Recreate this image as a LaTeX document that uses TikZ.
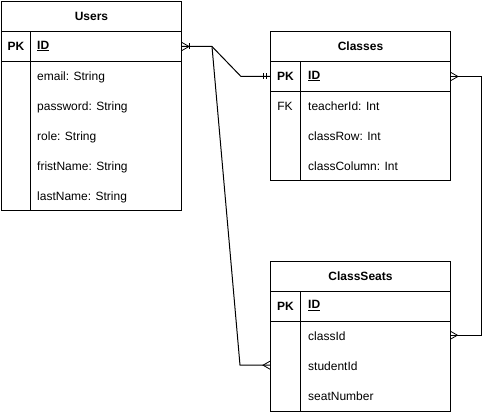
\documentclass[tikz,border=0pt]{standalone}
\usepackage{fontspec}
\setmainfont{Liberation Sans}
\usetikzlibrary{calc}
\begin{document}
\begin{tikzpicture}[x=1pt,y=-1pt,
  every node/.style={font=\fontsize{12}{14}\selectfont, inner sep=0pt},
  box/.style={draw, line width=1pt, anchor=north west},
  rowbox/.style={anchor=north west, minimum width=180pt, minimum height=30pt},
  fld/.style={anchor=base west},
  lnk/.style={draw, line width=1pt},
  crowfoot/.pic={\draw[line width=0.8pt] (0,-4) -- (7,0) -- (0,4);},
  onebar/.pic={\draw[line width=0.8pt] (0,-3) -- (0,3);}
]
\useasboundingbox (0,0) rectangle (490,412);

% Users
\node[box, minimum width=180pt, minimum height=30pt] (uhead) at (1,1) {\textbf{Users}};
\node[box, minimum width=29pt, minimum height=30pt] (upk) at (1,31) {\textbf{PK}};
\node[box, minimum width=151pt, minimum height=30pt] (uid) at (30,31) {};
\node[anchor=west] (uidt) at (37,46) {\textbf{\underline{ID}}};
\node[box, minimum width=29pt, minimum height=149pt] (ubl) at (1,61) {};
\node[box, minimum width=151pt, minimum height=149pt] (ubr) at (30,61) {};
\node[fld] (uf1) at (37,80.5) {email: String};
\node[fld] (uf2) at (37,110.5) {password: String};
\node[fld] (uf3) at (37,140.5) {role: String};
\node[fld] (uf4) at (37,170.5) {fristName: String};
\node[fld] (uf5) at (37,200.5) {lastName: String};

% Classes
\node[box, minimum width=180pt, minimum height=30pt] (chead) at (270,31) {\textbf{Classes}};
\node[box, minimum width=30pt, minimum height=30pt] (cpk) at (270,61) {\textbf{PK}};
\node[box, minimum width=150pt, minimum height=30pt] (cid) at (300,61) {};
\node[anchor=west] (cidt) at (308,76) {\textbf{\underline{ID}}};
\node[box, minimum width=30pt, minimum height=89pt] (cbl) at (270,91) {};
\node[box, minimum width=150pt, minimum height=89pt] (cbr) at (300,91) {};
\node[anchor=base] (cfk) at (285,110.5) {FK};
\node[fld] (cf1) at (308,110.5) {teacherId: Int};
\node[fld] (cf2) at (308,140.5) {classRow: Int};
\node[fld] (cf3) at (308,170.5) {classColumn: Int};

% ClassSeats
\node[box, minimum width=180pt, minimum height=30pt] (shead) at (270,260.5) {\textbf{ClassSeats}};
\node[box, minimum width=30pt, minimum height=30pt] (spk) at (270,290.5) {\textbf{PK}};
\node[box, minimum width=150pt, minimum height=30pt] (sid) at (300,290.5) {};
\node[anchor=west] (sidt) at (308,305.5) {\textbf{\underline{ID}}};
\node[box, minimum width=30pt, minimum height=90pt] (sbl) at (270,320.5) {};
\node[box, minimum width=150pt, minimum height=90pt] (sbr) at (300,320.5) {};
\node[rowbox] (srow1) at (270,320) {};
\node[rowbox] (srow2) at (270,350) {};
\node[fld] (sf1) at (308,340) {classId};
\node[fld] (sf2) at (308,370) {studentId};
\node[fld] (sf3) at (308,400) {seatNumber};

% connectors
\draw[lnk] (uid.east) -- ++(30,0) coordinate (ujn) -- ($(cpk.west)+(-29,0)$) -- (cpk.west);
\draw[lnk] (ujn) -- ($(srow2.west)+(-30,0)$) -- (srow2.west);
\draw[lnk] (cid.east) -- ++(30,0) |- (srow1.east);

% markers
\pic at (uid.east) {crowfoot};
\pic at ($(uid.east)+(7,0)$) {onebar};
\pic at ($(cpk.west)+(-7,0)$) {onebar};
\pic at ($(cpk.west)+(-3.5,0)$) {onebar};
\pic at (cid.east) {crowfoot};
\pic at (srow1.east) {crowfoot};
\pic[xscale=-1] at (srow2.west) {crowfoot};
\end{tikzpicture}
\end{document}
